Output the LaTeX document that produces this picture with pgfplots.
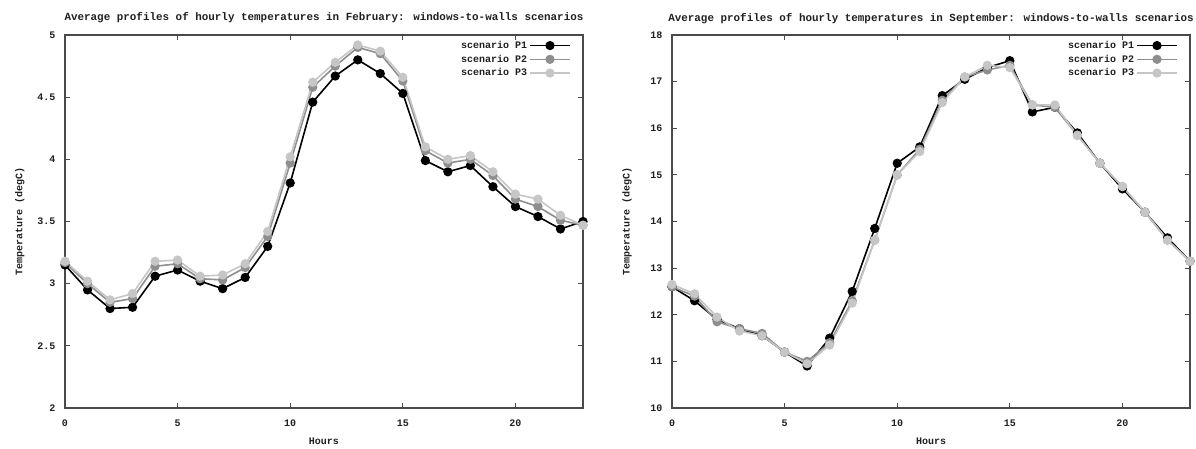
\documentclass[border=0pt]{standalone}
\usepackage{fontspec}
\setmainfont{Liberation Mono}
\usepackage{pgfplots}
\pgfplotsset{compat=1.18}
\definecolor{pone}{HTML}{000000}
\definecolor{ptwo}{HTML}{8E8E8E}
\definecolor{pthree}{HTML}{C6C6C6}
\definecolor{axcol}{HTML}{4A4A4A}
\definecolor{txt}{HTML}{202020}
\pgfplotsset{
  myax/.style={
    scale only axis, width=518pt, height=373pt,
    xmin=0, xmax=23, xtick={0,5,10,15,20},
    /pgf/number format/assume math mode=true,
    font=\bfseries\fontsize{10}{12}\selectfont,
    every tick label/.append style={font=\bfseries\fontsize{10}{12}\selectfont, text=txt},
    axis line style={axcol, line width=1.2pt},
    tick style={axcol, line width=0.8pt},
    major tick length=5pt,
    tick align=inside,
    title style={at={(axis description cs:0.5,1)}, anchor=base, yshift=8pt, inner sep=0pt, font=\bfseries\fontsize{10.9}{12}\selectfont, text=txt},
    xlabel={Hours},
    xlabel style={at={(axis description cs:0.5,0)}, anchor=base, yshift=-36pt, inner sep=0pt, text=txt},
    ylabel={Temperature (degC)},
    ylabel style={at={(axis description cs:-0.087,0.5)}, anchor=center, inner sep=0pt, text=txt},
    xticklabel style={yshift=-8pt},
    yticklabel style={xshift=-6pt},
    legend plot pos=right,
    legend cell align=right,
    legend style={at={(axis description cs:1,1)}, anchor=north east, xshift=-11pt, yshift=-3pt, draw=none, fill=none,
      font=\bfseries\fontsize{10}{12}\selectfont, text=txt, row sep=1pt, inner sep=1pt},
    legend image code/.code={\draw[mark repeat=2,mark phase=2] plot coordinates {(0pt,0pt)(20pt,0pt)(40pt,0pt)};},
  },
  s1/.style={color=pone, line width=1.6pt, mark=*, mark size=3.8pt, mark options={fill=pone, draw=pone}},
  s2/.style={color=ptwo, line width=1.6pt, mark=*, mark size=3.8pt, mark options={fill=ptwo, draw=ptwo}},
  s3/.style={color=pthree, line width=1.6pt, mark=*, mark size=3.8pt, mark options={fill=pthree, draw=pthree}},
}
\begin{document}
\begin{tikzpicture}
\useasboundingbox (-65pt,-40pt) rectangle (1131pt,408pt);
\begin{axis}[myax, at={(0pt,0pt)}, anchor=south west,
  title={Average profiles of hourly temperatures in February: windows-to-walls scenarios},
  ymin=2, ymax=5, ytick={2,2.5,3,3.5,4,4.5,5}]
\addplot[s1] coordinates {(0,3.15)(1,2.95)(2,2.80)(3,2.81)(4,3.06)(5,3.11)(6,3.02)(7,2.96)(8,3.05)(9,3.30)(10,3.81)(11,4.46)(12,4.67)(13,4.80)(14,4.69)(15,4.53)(16,3.99)(17,3.90)(18,3.95)(19,3.78)(20,3.62)(21,3.54)(22,3.44)(23,3.50)};
\addplot[s2] coordinates {(0,3.17)(1,3.00)(2,2.85)(3,2.88)(4,3.14)(5,3.16)(6,3.04)(7,3.03)(8,3.13)(9,3.38)(10,3.97)(11,4.58)(12,4.75)(13,4.90)(14,4.85)(15,4.63)(16,4.07)(17,3.97)(18,4.00)(19,3.87)(20,3.68)(21,3.62)(22,3.51)(23,3.47)};
\addplot[s3] coordinates {(0,3.18)(1,3.02)(2,2.87)(3,2.92)(4,3.18)(5,3.19)(6,3.06)(7,3.07)(8,3.16)(9,3.42)(10,4.02)(11,4.62)(12,4.78)(13,4.92)(14,4.87)(15,4.66)(16,4.10)(17,4.00)(18,4.03)(19,3.90)(20,3.72)(21,3.68)(22,3.55)(23,3.47)};
\legend{scenario P1, scenario P2, scenario P3}
\end{axis}
\begin{axis}[myax, at={(607pt,0pt)}, anchor=south west,
  title={Average profiles of hourly temperatures in September: windows-to-walls scenarios},
  ymin=10, ymax=18, ytick={10,11,...,18}]
\addplot[s1] coordinates {(0,12.60)(1,12.30)(2,11.90)(3,11.70)(4,11.55)(5,11.20)(6,10.90)(7,11.50)(8,12.50)(9,13.85)(10,15.25)(11,15.60)(12,16.70)(13,17.05)(14,17.30)(15,17.45)(16,16.35)(17,16.45)(18,15.90)(19,15.25)(20,14.70)(21,14.20)(22,13.65)(23,13.15)};
\addplot[s2] coordinates {(0,12.60)(1,12.40)(2,11.85)(3,11.70)(4,11.60)(5,11.20)(6,11.00)(7,11.40)(8,12.30)(9,13.60)(10,15.00)(11,15.55)(12,16.60)(13,17.10)(14,17.25)(15,17.35)(16,16.50)(17,16.45)(18,15.85)(19,15.25)(20,14.75)(21,14.20)(22,13.60)(23,13.15)};
\addplot[s3] coordinates {(0,12.65)(1,12.45)(2,11.95)(3,11.65)(4,11.55)(5,11.20)(6,10.95)(7,11.35)(8,12.25)(9,13.60)(10,15.00)(11,15.50)(12,16.55)(13,17.10)(14,17.35)(15,17.30)(16,16.50)(17,16.50)(18,15.85)(19,15.25)(20,14.75)(21,14.20)(22,13.60)(23,13.15)};
\legend{scenario P1, scenario P2, scenario P3}
\end{axis}
\end{tikzpicture}
\end{document}
